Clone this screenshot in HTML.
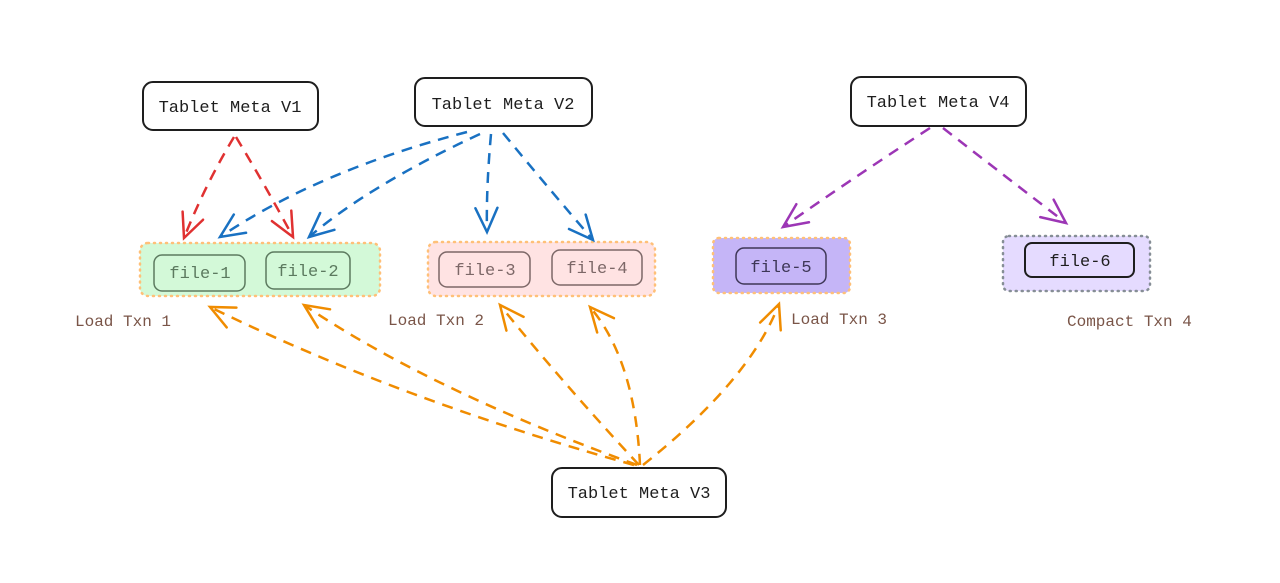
<!DOCTYPE html>
<html><head><meta charset="utf-8"><style>
html,body{margin:0;padding:0;background:#fff;}
svg{display:block;}
text{font-family:"Liberation Mono","DejaVu Sans Mono",monospace;}
</style></head><body>
<svg width="1280" height="583" viewBox="0 0 1280 583" xmlns="http://www.w3.org/2000/svg">
<defs>
<marker id="mr" markerUnits="userSpaceOnUse" markerWidth="40" markerHeight="40" refX="0" refY="0" viewBox="-30 -20 40 40" orient="auto"><path d="M-24 -11 L0 0 L-24 11" fill="none" stroke="#e03131" stroke-width="2.5" stroke-linecap="round"/></marker>
<marker id="mb" markerUnits="userSpaceOnUse" markerWidth="40" markerHeight="40" refX="0" refY="0" viewBox="-30 -20 40 40" orient="auto"><path d="M-24 -11 L0 0 L-24 11" fill="none" stroke="#1971c2" stroke-width="2.5" stroke-linecap="round"/></marker>
<marker id="mp" markerUnits="userSpaceOnUse" markerWidth="40" markerHeight="40" refX="0" refY="0" viewBox="-30 -20 40 40" orient="auto"><path d="M-24 -11 L0 0 L-24 11" fill="none" stroke="#9c36b5" stroke-width="2.5" stroke-linecap="round"/></marker>
<marker id="mo" markerUnits="userSpaceOnUse" markerWidth="40" markerHeight="40" refX="0" refY="0" viewBox="-30 -20 40 40" orient="auto"><path d="M-24 -11 L0 0 L-24 11" fill="none" stroke="#f08c00" stroke-width="2.5" stroke-linecap="round"/></marker>
</defs>

<!-- groups -->
<rect x="140" y="243" width="240" height="53" rx="8" fill="#d3f9d8" stroke="#ffc078" stroke-width="2.5" stroke-dasharray="1 5" stroke-linecap="round"/>
<rect x="428" y="242" width="227" height="54" rx="8" fill="#ffe3e3" stroke="#ffc078" stroke-width="2.5" stroke-dasharray="1 5" stroke-linecap="round"/>
<rect x="713" y="238" width="137" height="55" rx="6" fill="#c5b5f7" stroke="#ffc078" stroke-width="2.5" stroke-dasharray="1 5" stroke-linecap="round"/>
<rect x="1003" y="236" width="147" height="55" rx="6" fill="#e5dbff" stroke="#868e96" stroke-width="2.5" stroke-dasharray="1 5" stroke-linecap="round"/>

<!-- files -->
<g fill="none" stroke-width="1.5">
<rect x="154" y="255" width="91" height="36" rx="8" stroke="#5c7a5f"/>
<rect x="266" y="252" width="84" height="37" rx="8" stroke="#5c7a5f"/>
<rect x="439" y="252" width="91" height="35" rx="8" stroke="#7d6868"/>
<rect x="552" y="250" width="90" height="35" rx="8" stroke="#7d6868"/>
<rect x="736" y="248" width="90" height="36" rx="8" stroke="#3e3757"/>
<rect x="1025" y="243" width="109" height="34" rx="7" stroke="#1e1e1e" stroke-width="2" fill="#e5dbff"/>
</g>
<g font-size="17" text-anchor="middle">
<text x="200" y="278" fill="#5c7a5f">file-1</text>
<text x="308" y="276" fill="#5c7a5f">file-2</text>
<text x="485" y="275" fill="#7d6868">file-3</text>
<text x="597" y="273" fill="#7d6868">file-4</text>
<text x="781" y="272" fill="#3e3757">file-5</text>
<text x="1080" y="266" fill="#1e1e1e">file-6</text>
</g>

<!-- meta boxes -->
<g fill="#fff" stroke="#1e1e1e" stroke-width="2">
<rect x="143" y="82" width="175" height="48" rx="10"/>
<rect x="415" y="78" width="177" height="48" rx="10"/>
<rect x="851" y="77" width="175" height="49" rx="10"/>
<rect x="552" y="468" width="174" height="49" rx="10"/>
</g>
<g font-size="17" text-anchor="middle" fill="#1e1e1e">
<text x="230" y="112">Tablet Meta V1</text>
<text x="503" y="109">Tablet Meta V2</text>
<text x="938" y="107">Tablet Meta V4</text>
<text x="639" y="498">Tablet Meta V3</text>
</g>

<!-- labels -->
<g font-size="16" fill="#7a5548">
<text x="75" y="326">Load Txn 1</text>
<text x="388" y="325">Load Txn 2</text>
<text x="791" y="324">Load Txn 3</text>
<text x="1067" y="326">Compact Txn 4</text>
</g>

<!-- arrows -->
<g fill="none" stroke-width="2.5" stroke-dasharray="11 8">
<path d="M234 137 Q205 185 184 238" stroke="#e03131" marker-end="url(#mr)"/>
<path d="M236 137 Q265 185 293 237" stroke="#e03131" marker-end="url(#mr)"/>
<path d="M467 132 Q320 170 220 237" stroke="#1971c2" marker-end="url(#mb)"/>
<path d="M480 134 Q370 185 309 237" stroke="#1971c2" marker-end="url(#mb)"/>
<path d="M491 134 Q486 190 487 232" stroke="#1971c2" marker-end="url(#mb)"/>
<path d="M503 133 Q550 190 593 240" stroke="#1971c2" marker-end="url(#mb)"/>
<path d="M930 128 Q850 180 783 227" stroke="#9c36b5" marker-end="url(#mp)"/>
<path d="M943 128 Q1010 180 1066 223" stroke="#9c36b5" marker-end="url(#mp)"/>
<path d="M634 465 Q400 400 210 307" stroke="#f08c00" marker-end="url(#mo)"/>
<path d="M637 465 Q430 390 304 305" stroke="#f08c00" marker-end="url(#mo)"/>
<path d="M639 465 Q560 380 500 305" stroke="#f08c00" marker-end="url(#mo)"/>
<path d="M640 465 Q635 360 590 307" stroke="#f08c00" marker-end="url(#mo)"/>
<path d="M643 465 Q750 380 779 304" stroke="#f08c00" marker-end="url(#mo)"/>
</g>
</svg>
</body></html>
